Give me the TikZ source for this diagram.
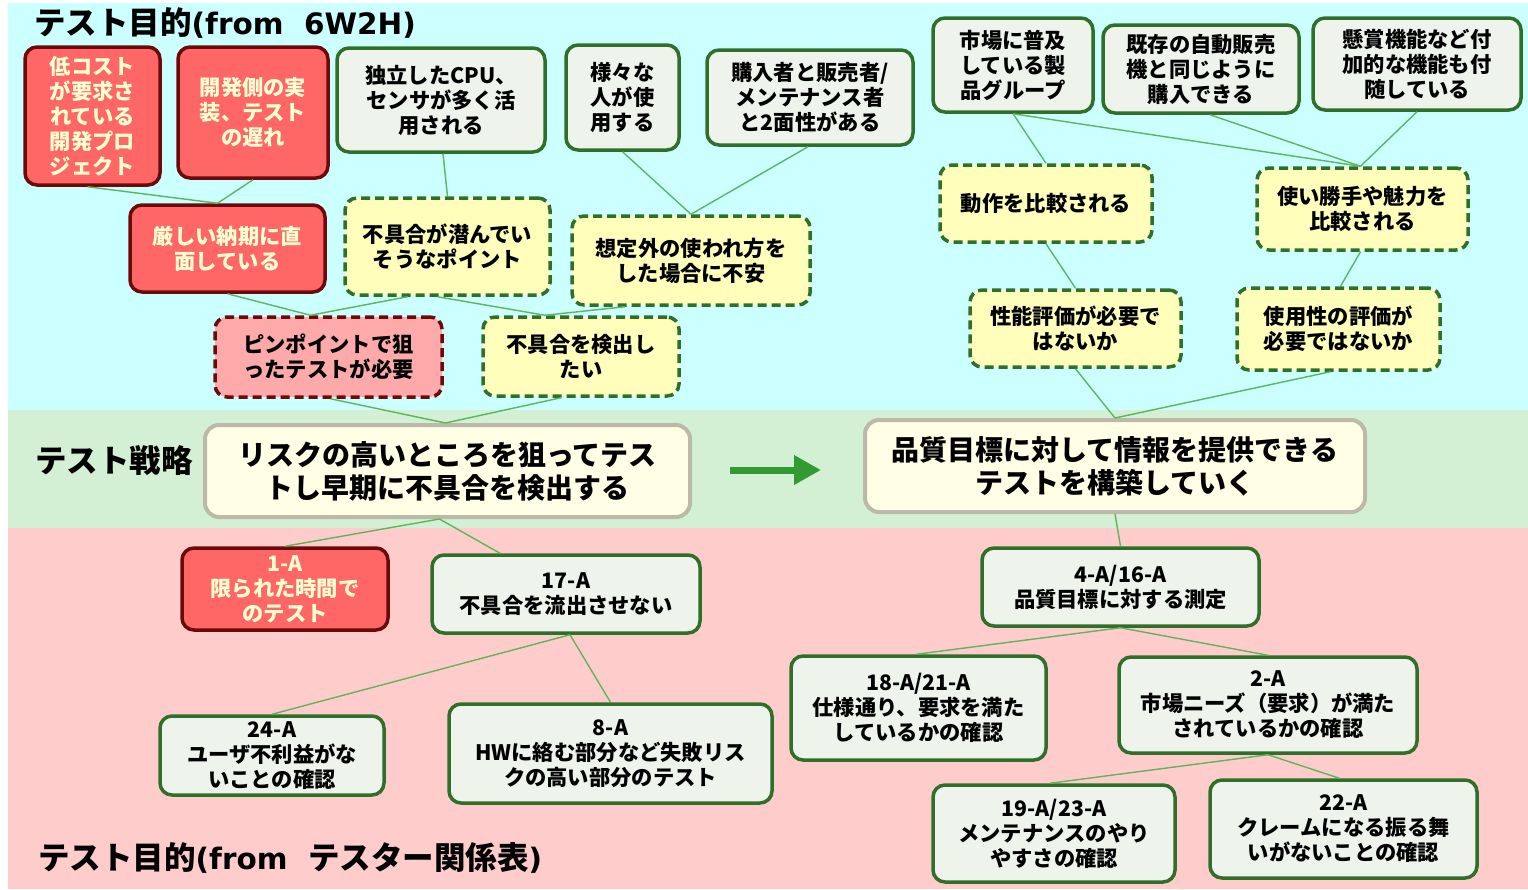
\documentclass[tikz,border=0pt]{standalone}
\usepackage{fontspec}
\setmainfont{Noto Sans CJK JP}
\newfontfamily\latfont{DejaVu Sans}
\usetikzlibrary{arrows.meta,calc}
\definecolor{bgcyan}{HTML}{CCFFFF}
\definecolor{bggreen}{HTML}{D3EFD4}
\definecolor{bgpink}{HTML}{FFCCCC}
\definecolor{redfill}{HTML}{FF6666}
\definecolor{darkred}{HTML}{6B0A0A}
\definecolor{cream}{HTML}{FFFFD2}
\definecolor{grayfill}{HTML}{EEF3EC}
\definecolor{dkgreen}{HTML}{2F6F2A}
\definecolor{yelfill}{HTML}{FFFFBB}
\definecolor{pinkfill}{HTML}{FFAAAA}
\definecolor{stratfill}{HTML}{FFFFE6}
\definecolor{stratdraw}{HTML}{BDB9A8}
\definecolor{linkgreen}{HTML}{5DB55D}
\definecolor{arrowgreen}{HTML}{339933}
\newcommand{\hlat}[1]{{\latfont\fontsize{29.5}{36}\selectfont\bfseries #1}}
\tikzset{
  base/.style={align=center, inner sep=0pt, rounded corners=12pt, line width=3.5pt,
    font=\fontsize{21.3}{25}\selectfont\bfseries},
  redbox/.style={base, fill=redfill, draw=darkred, text=cream},
  graybox/.style={base, fill=grayfill, draw=dkgreen},
  yelbox/.style={base, fill=yelfill, draw=dkgreen, dash pattern=on 9pt off 5pt},
  pinkbox/.style={base, fill=pinkfill, draw=darkred, dash pattern=on 9pt off 5pt},
  stratbox/.style={base, fill=stratfill, draw=stratdraw, line width=4pt, rounded corners=14pt,
    font=\fontsize{28}{33}\selectfont\bfseries},
  link/.style={draw=linkgreen, line width=1.4pt},
  heading/.style={anchor=west, inner sep=0pt, font=\fontsize{31.5}{36}\selectfont\bfseries},
  sz/.style n args={2}{minimum width=#1pt, minimum height=#2pt}
}
\begin{document}
\begin{tikzpicture}[x=1pt,y=-1pt]
\useasboundingbox (0,0) rectangle (1528,889);
% backgrounds
\fill[white] (0,0) rectangle (1528,889);
\fill[bgcyan] (8,3) rectangle (1528,410);
\fill[bggreen] (8,410) rectangle (1528,528);
\fill[bgpink] (8,528) rectangle (1528,889);

% headings
\node[heading] (h1) at (34,23) {テスト目的\hlat{(from\ \ 6W2H)}};
\node[heading] (h2) at (35,461) {テスト戦略};
\node[heading] (h3) at (38,858) {テスト目的\hlat{(from\ \ }テスター関係表\hlat{)}};

% top row
\node[redbox, sz={135}{138}] (lowcost) at (92.5,116) {低コスト\\が要求さ\\れている\\開発プロ\\ジェクト};
\node[redbox, sz={150}{131}] (devlate) at (253,112.5) {開発側の実\\装、テスト\\の遅れ};
\node[graybox, sz={208}{104}] (cpu) at (441,100) {独立したCPU、\\センサが多く活\\用される};
\node[graybox, sz={113}{105}] (various) at (622.5,97.5) {様々な\\人が使\\用する};
\node[graybox, sz={206}{95}] (buyer) at (810,97.5) {購入者と販売者/\\メンテナンス者\\と2面性がある};
\node[graybox, sz={160}{94}] (market) at (1013,65) {市場に普及\\している製\\品グループ};
\node[graybox, sz={196}{88}] (vending) at (1201,69) {既存の自動販売\\機と同じように\\購入できる};
\node[graybox, sz={208}{92}] (prize) at (1417,64) {懸賞機能など付\\加的な機能も付\\随している};

% second row
\node[redbox, sz={195}{87}] (deadline) at (227.5,248.5) {厳しい納期に直\\面している};
\node[yelbox, sz={205}{97}] (latent) at (447.5,246.5) {不具合が潜んでい\\そうなポイント};
\node[yelbox, sz={238}{89}] (unexp) at (691,260.5) {想定外の使われ方を\\した場合に不安};
\node[yelbox, sz={212}{77}] (behav) at (1046,203.5) {動作を比較される};
\node[yelbox, sz={211}{82}] (usecmp) at (1362.5,209) {使い勝手や魅力を\\比較される};
\node[pinkbox, sz={227}{80}] (pinpoint) at (328.5,357) {ピンポイントで狙\\ったテストが必要};
\node[yelbox, sz={196}{79}] (detect) at (581,356.5) {不具合を検出し\\たい};
\node[yelbox, sz={211}{77}] (perf) at (1075.5,328.5) {性能評価が必要で\\はないか};
\node[yelbox, sz={203}{82}] (useeval) at (1338.5,329) {使用性の評価が\\必要ではないか};

% strategy
\node[stratbox, sz={485}{92}] (risk) at (447.5,471) {リスクの高いところを狙ってテス\\トし早期に不具合を検出する};
\node[stratbox, sz={500}{92}] (quality) at (1115,466) {品質目標に対して情報を提供できる\\テストを構築していく};
\coordinate (arS) at (730,470);
\coordinate (arE) at (821,470);
\draw[arrowgreen, line width=7pt, -{Triangle[length=27pt,width=28pt]}] (arS) -- (arE);

% bottom
\node[redbox, sz={206}{82}] (a1) at (285,589) {1-A\\限られた時間で\\のテスト};
\node[graybox, sz={268}{78}] (a17) at (566,594) {17-A\\不具合を流出させない};
\node[graybox, sz={224}{79}] (a24) at (272,755.5) {24-A\\ユーザ不利益がな\\いことの確認};
\node[graybox, sz={323}{99}] (a8) at (610.5,753.5) {8-A\\HWに絡む部分など失敗リス\\クの高い部分のテスト};
\node[graybox, sz={277}{78}] (a4) at (1120.5,587) {4-A/16-A\\品質目標に対する測定};
\node[graybox, sz={255}{104}] (a18) at (918.5,708) {18-A/21-A\\仕様通り、要求を満た\\しているかの確認};
\node[graybox, sz={298}{96}] (a2) at (1268,705) {2-A\\市場ニーズ（要求）が満た\\されているかの確認};
\node[graybox, sz={242}{97}] (a19) at (1054,833.5) {19-A/23-A\\メンテナンスのやり\\やすさの確認};
\node[graybox, sz={267}{98}] (a22) at (1343.5,829) {22-A\\クレームになる振る舞\\いがないことの確認};

% connectors
\path[link] ([xshift=-5pt]lowcost.south) -- ([xshift=-10pt]deadline.north);
\path[link] (devlate.south) -- ([xshift=-10pt]deadline.north);
\path[link] ([xshift=2pt]cpu.south) -- (latent.north);
\path[link] (various.south) -- (unexp.north);
\path[link] ([xshift=-2pt]buyer.south) -- (unexp.north);
\path[link] (deadline.south) -- ([xshift=-18pt]pinpoint.north);
\path[link] ([xshift=-40pt]latent.south) -- ([xshift=-18pt]pinpoint.north);
\path[link] ([xshift=-10pt]latent.south) -- ([xshift=-36pt]detect.north);
\path[link] ([xshift=-66pt]unexp.south) -- ([xshift=-36pt]detect.north);
\path[link] ([xshift=2pt]pinpoint.south) -- ([xshift=-2pt]risk.north);
\path[link] ([xshift=-20pt]detect.south) -- ([xshift=-2pt]risk.north);
\path[link] ([xshift=-8pt]risk.south) -- (a1.north);
\path[link] ([xshift=-8pt]risk.south) -- ([xshift=-66pt]a17.north);
\path[link] ([xshift=4pt]a17.south) -- (a24.north);
\path[link] ([xshift=4pt]a17.south) -- (a8.north);
\path[link] (market.south) -- (behav.north);
\path[link] (market.south) -- ([xshift=-2pt]usecmp.north);
\path[link] ([xshift=9pt]vending.south) -- ([xshift=-2pt]usecmp.north);
\path[link] (prize.south) -- ([xshift=-2pt]usecmp.north);
\path[link] (behav.south) -- (perf.north);
\path[link] ([xshift=-2pt]usecmp.south) -- ([xshift=2pt]useeval.north);
\path[link] (perf.south) -- (quality.north);
\path[link] ([xshift=-8pt]useeval.south) -- (quality.north);
\path[link] (quality.south) -- (a4.north);
\path[link] (a4.south) -- ([xshift=-2pt]a18.north);
\path[link] (a4.south) -- (a2.north);
\path[link] (a2.south) -- ([xshift=-4pt]a19.north);
\path[link] (a2.south) -- ([xshift=-4pt]a22.north);
\end{tikzpicture}
\end{document}
